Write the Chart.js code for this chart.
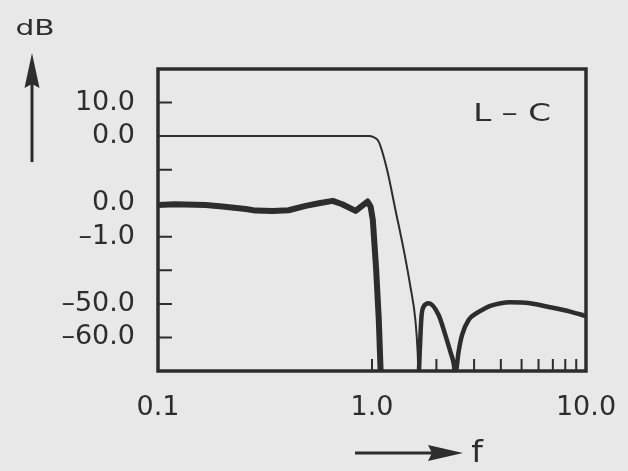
<!DOCTYPE html>
<html>
<head>
<meta charset="utf-8">
<script src="https://cdn.jsdelivr.net/npm/chart.js@4.4.1/dist/chart.umd.min.js"></script>
<style>
  html, body { margin: 0; padding: 0; background: #e8e8e8; }
  canvas { display: block; }
</style>
</head>
<body>
<canvas id="grafico" width="628" height="471"></canvas>
<script>
// curva fina (escala de 10 dB/div): faixa de passagem + transicao
const freqFina = [0.1, 0.5, 0.966, 1.016, 1.076, 1.177, 1.287, 1.407, 1.512, 1.595, 1.635, 1.65];
const dbFina = [0, 0, 0, -0.3, -1.7, -10.1, -22.0, -33.9, -44.9, -54.8, -64.6, -72];

// curva grossa da faixa de passagem (escala ampliada, 1 dB/div em torno do segundo 0.0)
const freqBanda = [0.1, 0.12, 0.167, 0.2, 0.257, 0.286, 0.343, 0.408, 0.49, 0.565, 0.655, 0.726, 0.838, 0.953, 0.985, 1.009, 1.046, 1.076, 1.1];
const dbBanda = [-20.5, -20.3, -20.5, -21.0, -21.7, -22.2, -22.3, -22.1, -20.8, -20.0, -19.3, -20.3, -22.3, -19.5, -21.0, -25.0, -39.9, -54.8, -72];

// faixa de rejeicao
const freqRejeita = [1.655, 1.701, 1.744, 1.84, 2.048, 2.202, 2.323, 2.406, 2.451, 2.539, 2.634, 2.827, 3.094, 3.382, 3.567, 4.42, 5.48, 6.79, 8.42, 10];
const dbRejeita = [-71, -54.2, -50.8, -49.8, -53.3, -59.3, -64.2, -67.6, -71, -64.2, -59.3, -54.8, -52.7, -51.3, -50.6, -49.5, -49.8, -51.0, -52.3, -53.6];

// eixos
const yTicks = [10, 0, -10, -20, -30, -40, -50, -60];
const yRotulos = ['10.0', '0.0', '', '0.0', '–1.0', '', '–50.0', '–60.0'];
const xTicks = [0.1, 1, 10];
const xRotulos = ['0.1', '1.0', '10.0'];
const xMenores = [1, 2, 3, 4, 5, 6, 7, 8, 9];

const tinta = '#2d2d2d';
const fonte = '"DejaVu Sans", sans-serif';

function pontos(xs, ys) {
  return xs.map((f, i) => ({ x: f, y: ys[i] }));
}

function texto(ctx, s, x, y, tam, sx, alinha) {
  ctx.save();
  ctx.translate(x, y);
  ctx.scale(sx, 1);
  ctx.font = tam + 'px ' + fonte;
  ctx.textAlign = alinha;
  ctx.textBaseline = 'alphabetic';
  ctx.fillStyle = tinta;
  ctx.fillText(s, 0, 0);
  ctx.restore();
}

const moldura = {
  id: 'moldura',
  beforeDraw(chart) {
    const ctx = chart.ctx;
    ctx.save();
    ctx.fillStyle = '#e8e8e8';
    ctx.fillRect(0, 0, chart.width, chart.height);
    ctx.restore();
  },
  afterDatasetsDraw(chart) {
    const { ctx, chartArea: a, scales } = chart;
    ctx.save();
    ctx.strokeStyle = tinta;
    ctx.fillStyle = tinta;

    // marcas internas
    ctx.lineWidth = 2;
    ctx.beginPath();
    yTicks.forEach(v => {
      const py = scales.y.getPixelForValue(v);
      ctx.moveTo(a.left, py);
      ctx.lineTo(a.left + 14, py);
    });
    xMenores.forEach(v => {
      const px = scales.x.getPixelForValue(v);
      ctx.moveTo(px, a.bottom);
      ctx.lineTo(px, a.bottom - 12);
    });
    ctx.stroke();

    // caixa
    ctx.lineWidth = 3.5;
    ctx.strokeRect(a.left, a.top, a.right - a.left, a.bottom - a.top);

    // seta vertical (dB)
    ctx.lineWidth = 3;
    ctx.beginPath();
    ctx.moveTo(32, 162);
    ctx.lineTo(32, 80);
    ctx.stroke();
    ctx.beginPath();
    ctx.moveTo(32, 53);
    ctx.lineTo(39.5, 88);
    ctx.lineTo(32, 84);
    ctx.lineTo(24.5, 88);
    ctx.closePath();
    ctx.fill();

    // seta horizontal (f)
    ctx.beginPath();
    ctx.moveTo(355, 453);
    ctx.lineTo(435, 453);
    ctx.stroke();
    ctx.beginPath();
    ctx.moveTo(463, 453);
    ctx.lineTo(428, 445);
    ctx.lineTo(432, 453);
    ctx.lineTo(428, 461);
    ctx.closePath();
    ctx.fill();
    ctx.restore();

    texto(ctx, 'dB', 35, 35, 22, 1.35, 'center');
    texto(ctx, 'f', 477, 462, 30, 1.1, 'center');
    texto(ctx, 'L – C', 512, 121, 25, 1.3, 'center');
  }
};

const ctx = document.getElementById('grafico').getContext('2d');

new Chart(ctx, {
  type: 'line',
  data: {
    datasets: [
      {
        data: pontos(freqFina, dbFina),
        borderColor: tinta,
        borderWidth: 2,
        pointRadius: 0,
        cubicInterpolationMode: 'monotone',
        clip: 0
      },
      {
        data: pontos(freqBanda, dbBanda),
        borderColor: tinta,
        borderWidth: 6,
        pointRadius: 0,
        tension: 0,
        borderJoinStyle: 'round',
        clip: 0
      },
      {
        data: pontos(freqRejeita, dbRejeita),
        borderColor: tinta,
        borderWidth: 4.5,
        pointRadius: 0,
        cubicInterpolationMode: 'monotone',
        clip: 0
      }
    ]
  },
  options: {
    responsive: false,
    animation: false,
    layout: { padding: { top: 69, right: 42, left: 0, bottom: 0 } },
    plugins: { legend: { display: false }, tooltip: { enabled: false } },
    scales: {
      x: {
        type: 'logarithmic',
        min: 0.1,
        max: 10,
        // marcas escondidas; o comprimento so empurra os rotulos para baixo
        grid: { display: false, drawTicks: true, tickLength: 19 },
        border: { display: false },
        afterBuildTicks: s => { s.ticks = xTicks.map(v => ({ value: v })); },
        afterFit: s => { s.height = 100; },
        ticks: {
          autoSkip: false,
          maxRotation: 0,
          padding: 2,
          color: tinta,
          font: { family: fonte, size: 27 },
          callback: (v, i) => xRotulos[i]
        }
      },
      y: {
        min: -70,
        max: 20,
        grid: { display: false, drawTicks: false },
        border: { display: false },
        afterBuildTicks: s => { s.ticks = yTicks.map(v => ({ value: v })); },
        afterFit: s => { s.width = 158; },
        ticks: {
          padding: 23,
          color: tinta,
          font: { family: fonte, size: 27 },
          callback: (v, i) => yRotulos[i]
        }
      }
    }
  },
  plugins: [moldura]
});
</script>
</body>
</html>
